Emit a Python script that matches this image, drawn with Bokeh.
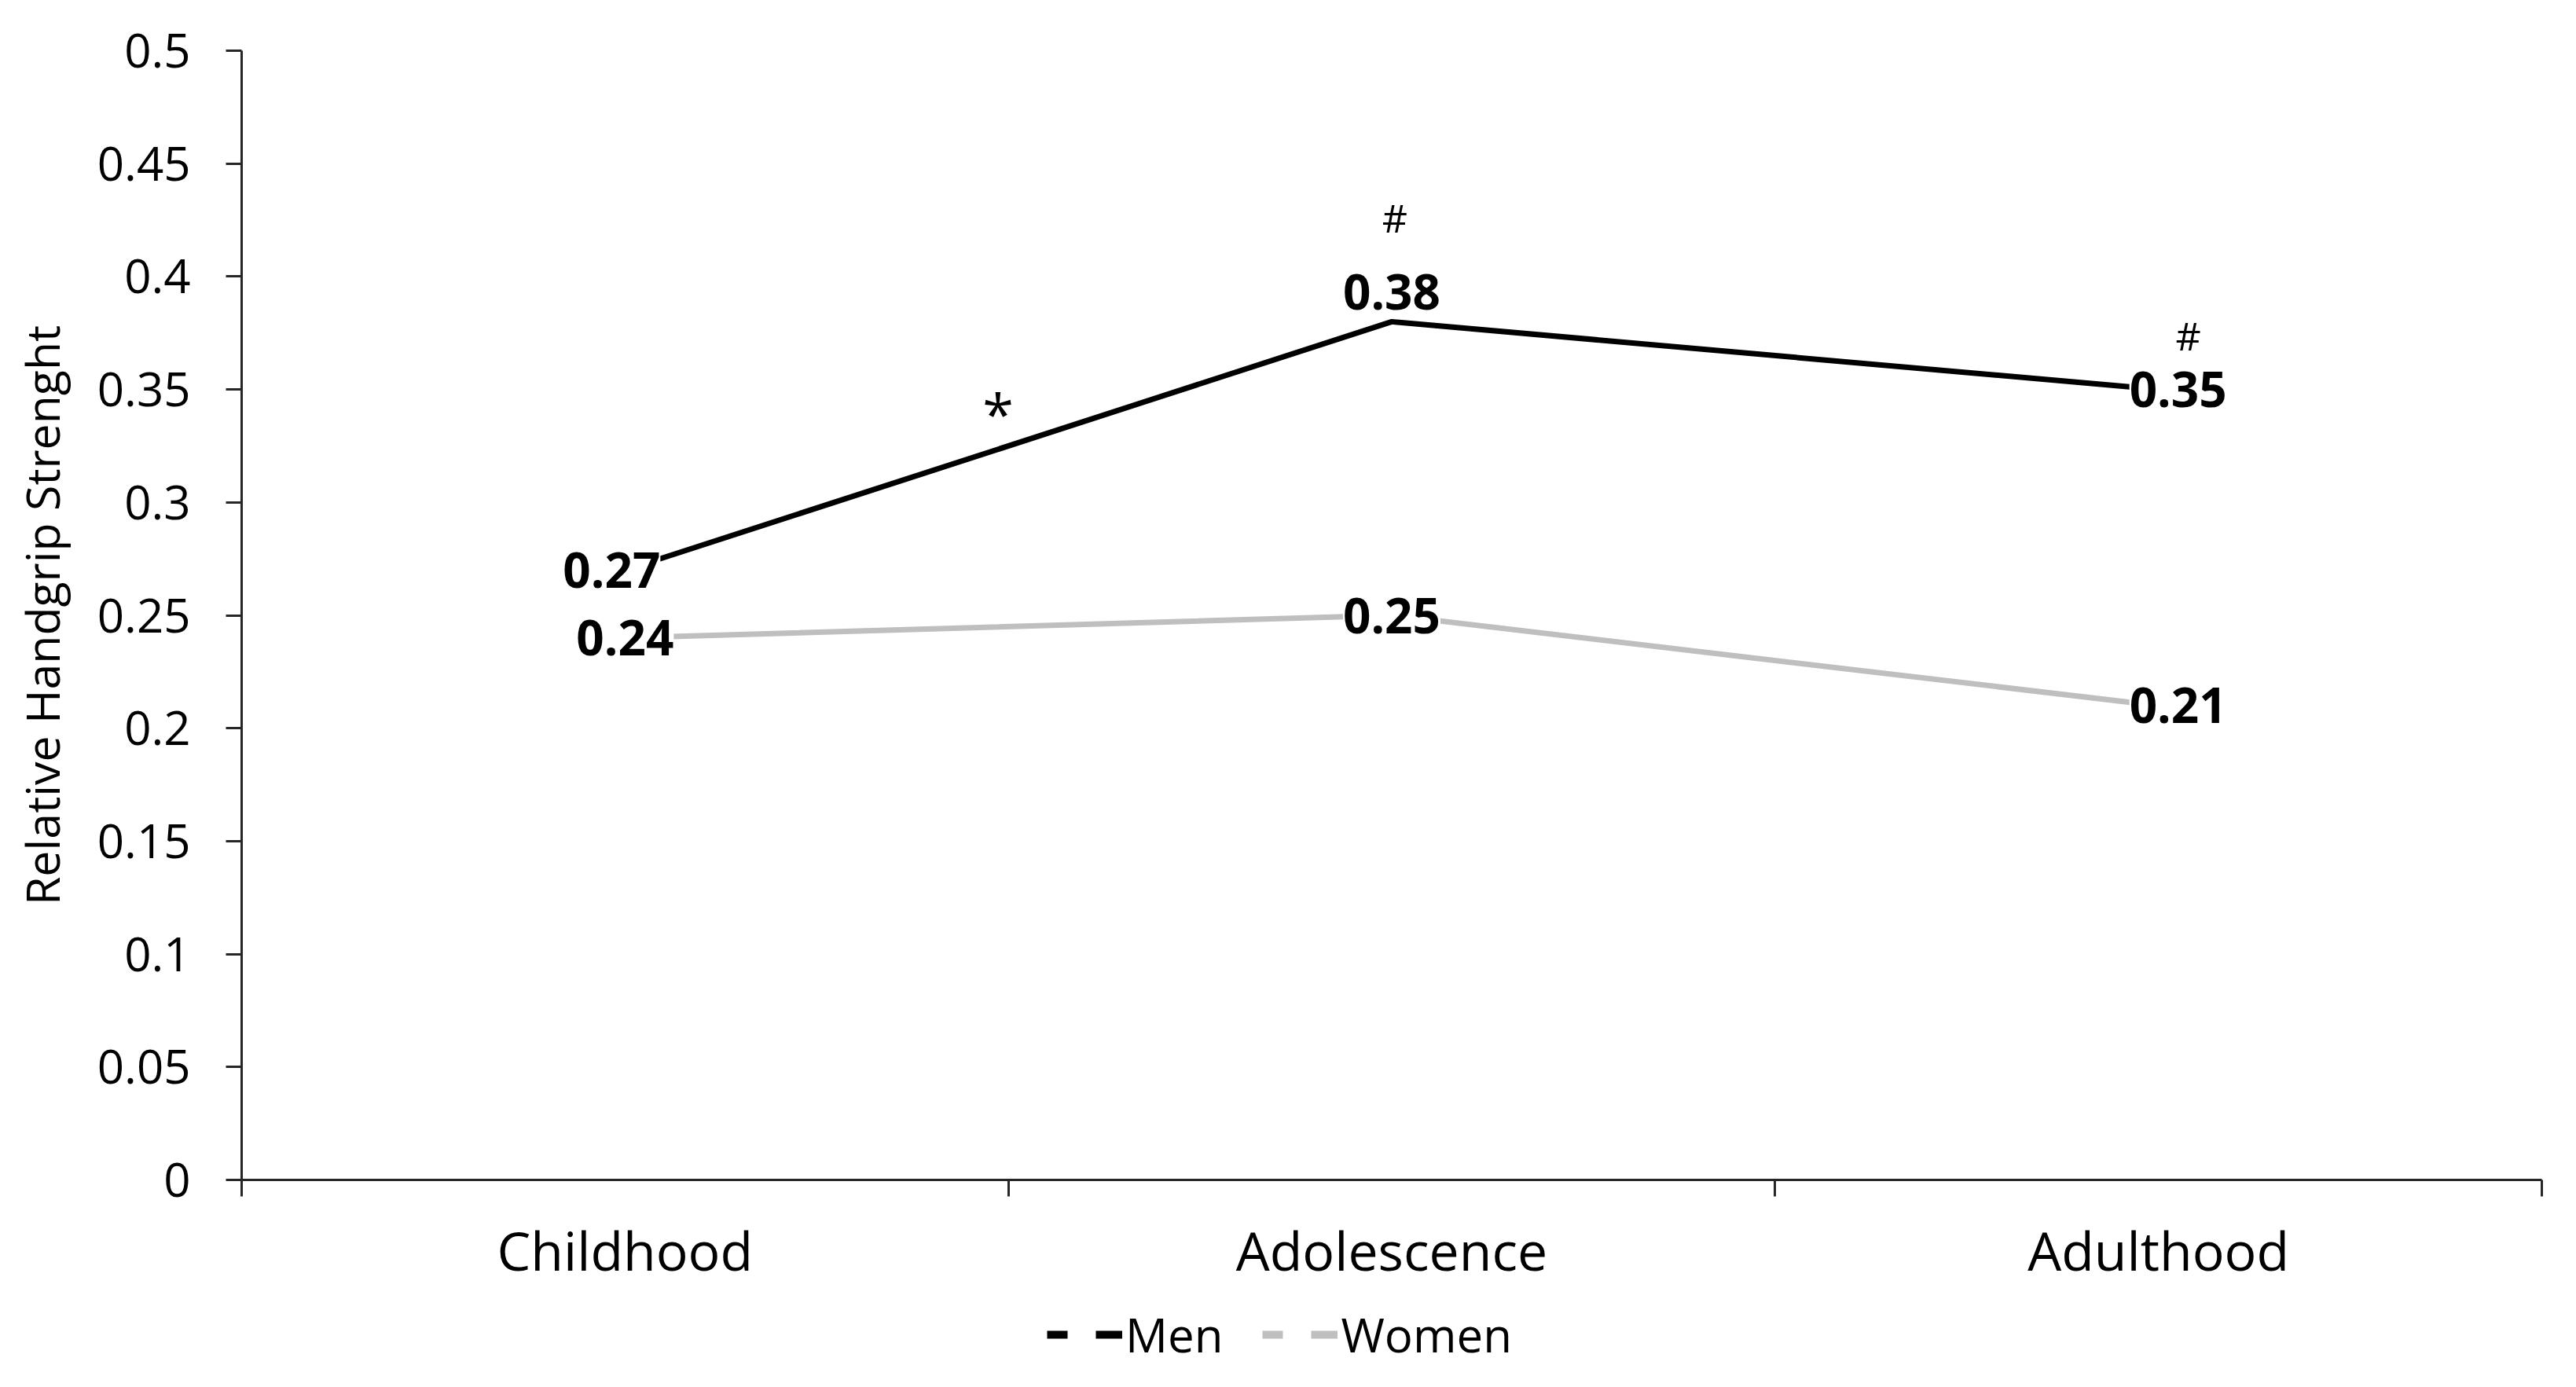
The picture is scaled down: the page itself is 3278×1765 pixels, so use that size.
from bokeh.plotting import figure
from bokeh.layouts import column
from bokeh.models import (Range1d, LinearAxis, FixedTicker, LabelSet, Label, ColumnDataSource,
                          Legend, LegendItem)
from bokeh.core.properties import value
from bokeh.embed import file_html
from bokeh.resources import INLINE

# ---------------- data ----------------
categories = ["Childhood", "Adolescence", "Adulthood"]
men = [0.27, 0.38, 0.35]
women = [0.24, 0.25, 0.21]
men_labels = ["0.27", "0.38", "0.35"]
women_labels = ["0.24", "0.25", "0.21"]
y_ticks = [0, 0.05, 0.1, 0.15, 0.2, 0.25, 0.3, 0.35, 0.4, 0.45, 0.5]
y_tick_labels = ["0", "0.05", "0.1", "0.15", "0.2", "0.25", "0.3", "0.35", "0.4", "0.45", "0.5"]
hash_categories = ["Adolescence", "Adulthood"]
hash_marks = ["#", "#"]
star_mark = "*"
y_label = "Relative Handgrip Strenght"
series_names = ["Men", "Women"]

# category slots: each category occupies one unit, centred at i + 0.5
cat_pos = [i + 0.5 for i in range(len(categories))]
edges = list(range(len(categories) + 1))

# ---------------- styles ----------------
FONT = "Open Sans"
MEN_COLOR = "black"
WOMEN_COLOR = "#BFBFBF"
men_label_dx = [-17, 0, 25]
men_label_dy = [0, 38, 0]
women_label_dx = [0, 0, 25]
women_label_dy = [0, 0, 0]
hash_dx = [4, 38]
hash_dy = [132, 69]

W = 3262
H_MAIN = 1650
H_LEG = 99

p = figure(x_range=Range1d(0, len(categories)), y_range=Range1d(0, 0.5),
           width=W, height=H_MAIN, output_backend="svg", toolbar_location=None,
           x_axis_location=None, y_axis_location=None,
           min_border_left=307, min_border_right=28, min_border_top=64,
           min_border_bottom=H_MAIN - 1501)
p.xgrid.visible = False
p.ygrid.visible = False
p.outline_line_color = None
p.background_fill_color = "white"

yaxis = LinearAxis(ticker=FixedTicker(ticks=y_ticks),
                   major_label_overrides={t: l for t, l in zip(y_ticks, y_tick_labels)},
                   axis_label=y_label, axis_label_text_font=FONT, axis_label_text_font_style="normal",
                   axis_label_text_font_size="59px", axis_label_text_color="black",
                   axis_label_standoff=28,
                   major_label_text_font=FONT, major_label_text_font_size="60px",
                   major_label_text_color="black", major_label_standoff=45,
                   major_tick_out=20, major_tick_in=0, minor_tick_out=0, minor_tick_in=0,
                   axis_line_width=3, axis_line_color="#262626",
                   major_tick_line_width=3, major_tick_line_color="#262626")
p.add_layout(yaxis, "left")

# category axis: labels at slot centres, boundary ticks (minor) at slot edges
xaxis = LinearAxis(ticker=FixedTicker(ticks=cat_pos, minor_ticks=edges),
                   major_label_overrides={x: c for x, c in zip(cat_pos, categories)},
                   major_tick_out=0, major_tick_in=0,
                   minor_tick_out=21, minor_tick_in=0,
                   minor_tick_line_width=3, minor_tick_line_color="#262626",
                   axis_line_width=3, axis_line_color="#262626",
                   major_label_text_font=FONT, major_label_text_font_size="68px",
                   major_label_text_color="black", major_label_standoff=21)
p.add_layout(xaxis, "below")

src = ColumnDataSource(dict(x=cat_pos, men=men, women=women,
                            men_lab=men_labels, women_lab=women_labels,
                            mdx=men_label_dx, mdy=men_label_dy,
                            wdx=women_label_dx, wdy=women_label_dy))

p.line(x="x", y="women", source=src, line_color=WOMEN_COLOR, line_width=7)
p.line(x="x", y="men", source=src, line_color=MEN_COLOR, line_width=7)

for col, lab, dx, dy in [("men", "men_lab", "mdx", "mdy"), ("women", "women_lab", "wdx", "wdy")]:
    ls = LabelSet(x="x", y=col, text=lab, source=src, x_offset=dx, y_offset=dy,
                  text_align="center", text_baseline="middle",
                  text_font=value(FONT), text_font_style="bold", text_font_size="62px",
                  text_color="black", background_fill_color="white")
    p.add_layout(ls)

hsrc = ColumnDataSource(dict(x=[cat_pos[categories.index(c)] for c in hash_categories],
                             y=[men[categories.index(c)] for c in hash_categories],
                             t=hash_marks, dx=hash_dx, dy=hash_dy))
p.add_layout(LabelSet(x="x", y="y", text="t", source=hsrc, x_offset="dx", y_offset="dy",
                      text_align="center", text_baseline="middle",
                      text_font=value(FONT), text_font_size="50px", text_color="black"))

p.add_layout(Label(x=(cat_pos[0] + cat_pos[1]) / 2, y=(men[0] + men[1]) / 2, text=star_mark,
                   x_offset=-13, y_offset=42, text_align="center", text_baseline="middle",
                   text_font=FONT, text_font_size="72px", text_color="black"))

# ---------------- legend strip ----------------
lf = figure(width=W, height=H_LEG, x_range=Range1d(0, 1), y_range=Range1d(0, 1),
            output_backend="svg", toolbar_location=None,
            x_axis_location=None, y_axis_location=None,
            min_border=0, min_border_left=0, min_border_right=0,
            min_border_top=0, min_border_bottom=0)
lf.xgrid.visible = False
lf.ygrid.visible = False
lf.outline_line_color = None
nan = float("nan")
r_men = lf.line(x=[nan], y=[nan], line_color=MEN_COLOR, line_width=10, line_dash="26 36 34 10")
r_women = lf.line(x=[nan], y=[nan], line_color=WOMEN_COLOR, line_width=10, line_dash="26 36 34 10")
legend = Legend(items=[LegendItem(label=series_names[0], renderers=[r_men]),
                       LegendItem(label=series_names[1], renderers=[r_women])],
                location=(1025, 10), orientation="horizontal",
                label_text_font=FONT, label_text_font_size="60px", label_text_color="black",
                glyph_width=96, glyph_height=40, label_standoff=4, spacing=50,
                padding=0, margin=0, border_line_color=None, background_fill_alpha=0)
lf.add_layout(legend, "center")

layout = column(p, lf, spacing=0)
open("out.html", "w").write(file_html(layout, INLINE))
